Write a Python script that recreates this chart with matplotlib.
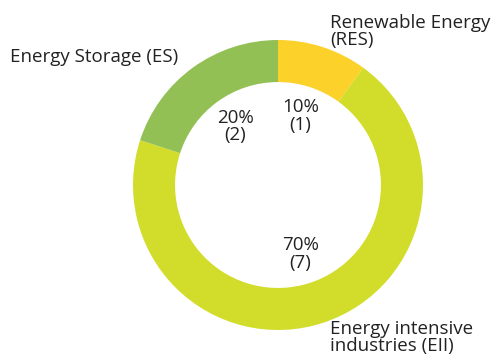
import matplotlib
matplotlib.use('Agg')
from matplotlib import pyplot as plt

# projects per sector
sectors = ['Renewable Energy\n(RES)', 'Energy intensive\nindustries (EII)', 'Energy Storage (ES)']
counts = [1, 7, 2]
colors = ['#fcd12a', '#d2dd2b', '#93c054']

plt.rcParams['font.family'] = ['Open Sans', 'DejaVu Sans']

fig = plt.figure(figsize=(4.91, 3.6), dpi=100)
ax = fig.add_axes([0, 0, 1, 1])

total = sum(counts)
wedges, _, autotexts = ax.pie(counts, colors=colors, startangle=90, counterclock=False,
                              radius=1.0, pctdistance=0.5,
                              autopct=lambda p: f'{p:.0f}%\n({round(p * total / 100)})',
                              wedgeprops=dict(width=0.29, linewidth=0),
                              textprops=dict(fontsize=13.5, color='#222222'))
for t in autotexts:
    t.set_linespacing(0.95)

# sector names placed around the ring
ax.text(0.36, 1.06, sectors[0], ha='left', va='center', fontsize=13.5, color='#222222', linespacing=0.95)
ax.text(0.36, -1.05, sectors[1], ha='left', va='center', fontsize=13.5, color='#222222', linespacing=0.95)
ax.text(-1.85, 0.88, sectors[2], ha='left', va='center', fontsize=13.5, color='#222222')

ax.set_xlim(-278 / 145, (491 - 278) / 145)
ax.set_ylim((185 - 360) / 145, 185 / 145)
ax.set_aspect('auto')
ax.axis('off')

plt.savefig('out.png', dpi=100)
